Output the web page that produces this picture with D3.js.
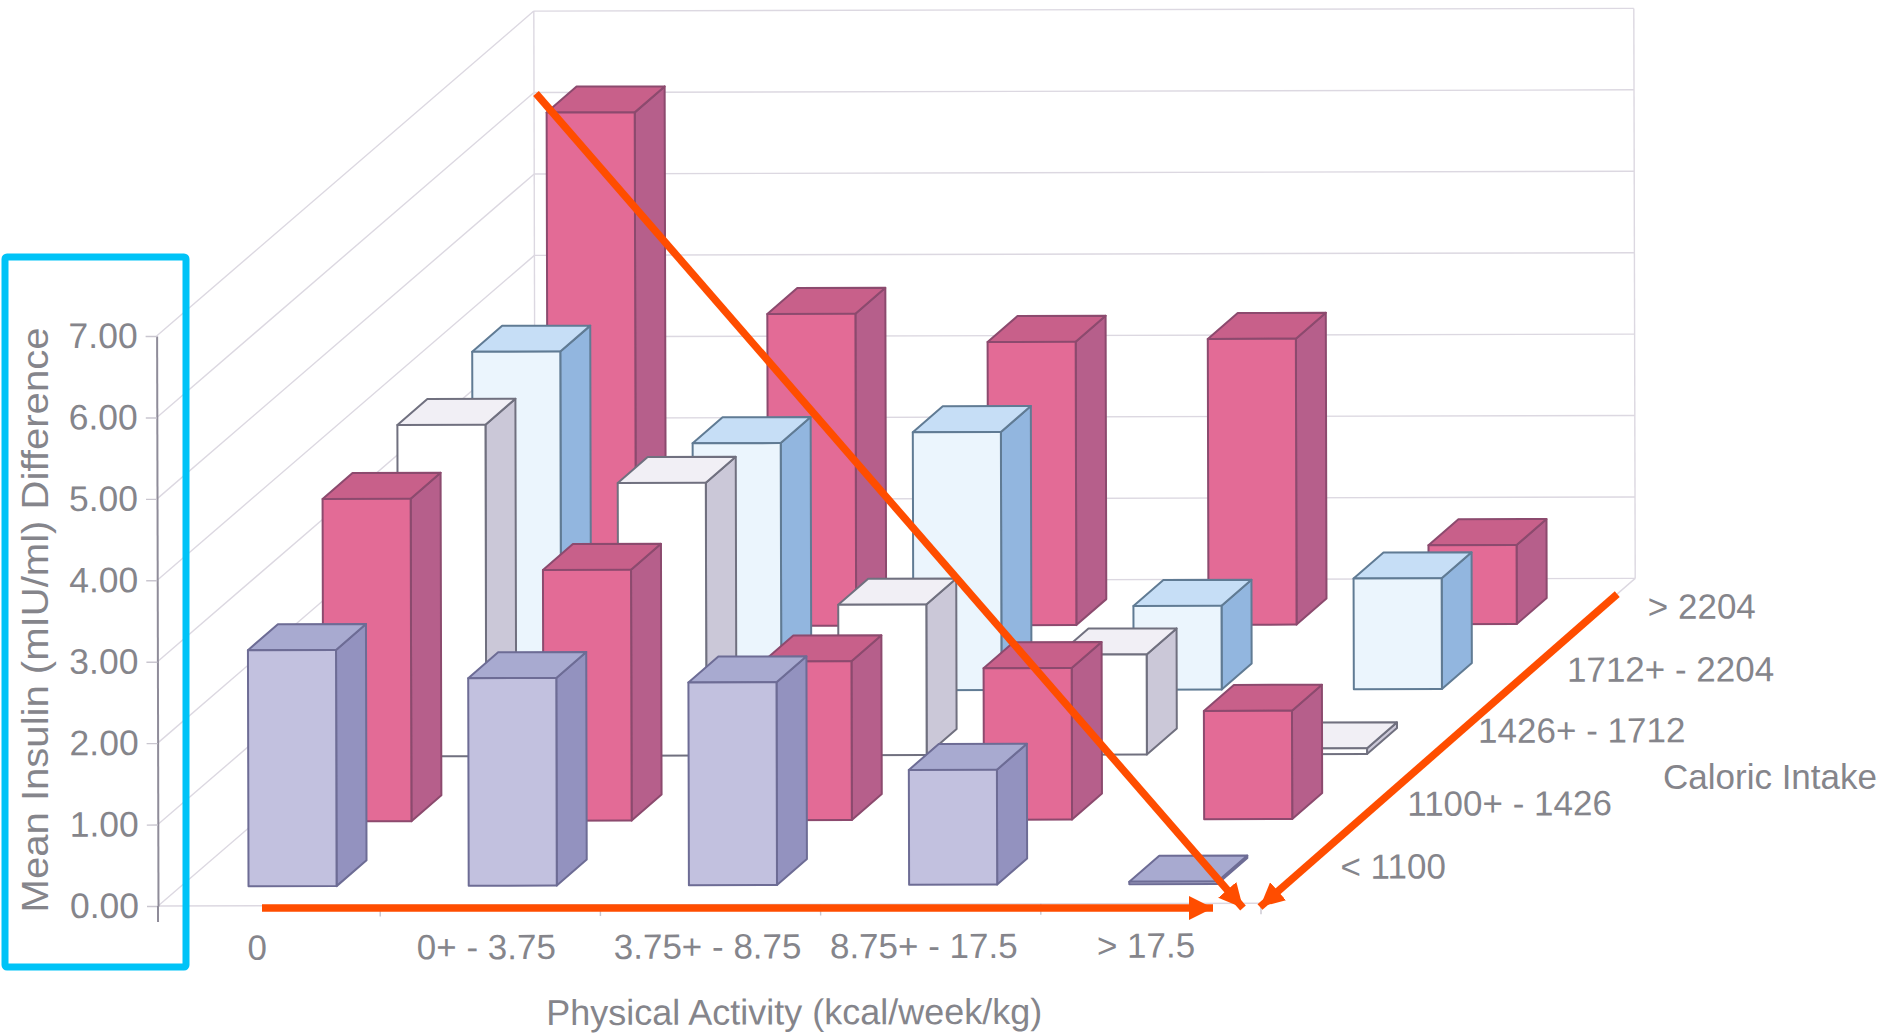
<!DOCTYPE html>
<html>
<head>
<meta charset="utf-8">
<title>Mean insulin difference</title>
<script src="https://cdn.jsdelivr.net/npm/d3@7"></script>
<style>
  html, body { margin: 0; padding: 0; background: #fff; }
  text { font-family: "Liberation Sans", Arial, sans-serif; fill: #85858b; }
</style>
</head>
<body>
<div id="chart"></div>
<script>
var activity = ["0", "0+ - 3.75", "3.75+ - 8.75", "8.75+ - 17.5", "> 17.5"];
var intake = ["< 1100", "1100+ - 1426", "1426+ - 1712", "1712+ - 2204", "> 2204"];
var yTicks = [0, 1, 2, 3, 4, 5, 6, 7];

// one list per intake row, in activity order
var under1100 = [2.90, 2.55, 2.49, 1.41, 0.03];
var from1100 = [3.96, 3.08, 1.95, 1.86, 1.33];
var from1426 = [4.07, 3.35, 1.85, 1.23, 0.07];
var from1712 = [4.17, 3.04, 3.17, 1.03, 1.36];
var over2204 = [6.31, 3.83, 3.48, 3.51, 0.97];
var rows = [under1100, from1100, from1426, from1712, over2204];

var palette = [
    {front: "#c2c1df", side: "#9392bf", top: "#a8aad0", edge: "#6d6c95"},
    {front: "#e36b96", side: "#b65f8b", top: "#c8608a", edge: "#8c4a6e"},
    {front: "#ffffff", side: "#cbc8d8", top: "#f1eff5", edge: "#70707f"},
    {front: "#ebf5fd", side: "#92b6df", top: "#c6def6", edge: "#607b94"},
    {front: "#e36b96", side: "#b65f8b", top: "#c8608a", edge: "#8c4a6e"}
];

var w = 1883, h = 1034;
var floorLeft = 160, floorRight = 1261;
var wallLeft = 161;

var svg = d3.select("#chart").append("svg")
    .attr("width", w)
    .attr("height", h)
    .style("display", "block");

// the plot leans very slightly, pivoting on the origin
var plot = svg.append("g").attr("transform", "rotate(-0.14 158 906)");

var x = d3.scaleBand().domain(activity).range([floorLeft, floorRight])
    .paddingInner(0.6).paddingOuter(0.3);
var z = d3.scaleBand().domain(intake).range([0, 1])
    .paddingInner(0.6).paddingOuter(0.3);
var y = d3.scaleLinear().domain([0, 7]).range([906, 336]);
var xEdge = d3.scaleLinear().domain([0, activity.length]).range([floorLeft, floorRight]);

// oblique depth: depth 0 is the front of the floor, depth 1 the back wall
var depthX = d3.scaleLinear().domain([0, 1]).range([0, 375]);
var depthY = d3.scaleLinear().domain([0, 1]).range([0, -324]);

function project(px, value, depth) {
    return [px + depthX(depth), y(value) + depthY(depth)];
}

function poly(points) {
    return d3.line()(points) + "Z";
}

// walls and floor
var wallColor = "#dcd8e1";
var walls = plot.append("g").attr("fill", "none").attr("stroke", wallColor).attr("stroke-width", 1.4);

yTicks.forEach(function(t) {
    walls.append("path").attr("d", d3.line()([project(floorLeft - 2, t, 0), project(wallLeft, t, 1)]));
    walls.append("path").attr("d", d3.line()([project(wallLeft, t, 1), project(floorRight, t, 1)]));
});
walls.append("path").attr("d", d3.line()([project(wallLeft, 0, 1), project(wallLeft, 7, 1)]));
walls.append("path").attr("d", d3.line()([project(floorRight, 0, 1), project(floorRight, 7, 1)]));
walls.append("path").attr("d", d3.line()([project(floorLeft - 2, 0, 0), project(floorRight, 0, 0)]));
walls.append("path").attr("d", d3.line()([project(floorRight, 0, 0), project(floorRight, 0, 1)]));

// bars, back row first so nearer ones cover them
var bw = x.bandwidth(), bd = z.bandwidth();
d3.range(rows.length - 1, -1, -1).forEach(function(r) {
    var colors = palette[r];
    var d0 = z(intake[r]), d1 = d0 + bd;
    var row = plot.append("g")
        .attr("class", "row")
        .attr("stroke", colors.edge)
        .attr("stroke-width", 2)
        .attr("stroke-linejoin", "round");

    var bars = row.selectAll("g")
        .data(rows[r])
        .enter()
        .append("g");

    bars.append("path")
        .attr("fill", colors.side)
        .attr("d", function(d, i) {
            var x1 = x(activity[i]) + bw;
            return poly([project(x1, 0, d0), project(x1, d, d0), project(x1, d, d1), project(x1, 0, d1)]);
        });
    bars.append("path")
        .attr("fill", colors.top)
        .attr("d", function(d, i) {
            var x0 = x(activity[i]), x1 = x0 + bw;
            return poly([project(x0, d, d0), project(x1, d, d0), project(x1, d, d1), project(x0, d, d1)]);
        });
    bars.append("path")
        .attr("fill", colors.front)
        .attr("d", function(d, i) {
            var x0 = x(activity[i]), x1 = x0 + bw;
            return poly([project(x0, 0, d0), project(x1, 0, d0), project(x1, d, d0), project(x0, d, d0)]);
        });
});

// value axis
var yAxis = d3.axisLeft(y)
    .tickValues(yTicks)
    .tickFormat(d3.format(".2f"))
    .tickSize(11)
    .tickSizeOuter(0)
    .tickPadding(8);

var yG = plot.append("g").attr("transform", "translate(158,0)").call(yAxis);
yG.selectAll("text").attr("font-size", 35.5).style("fill", "#85858b");
yG.selectAll("line").attr("stroke", "#c9c6cf").attr("stroke-width", 1.4);
yG.select(".domain").attr("stroke", "#8f8c99").attr("stroke-width", 2);
yG.append("line").attr("y1", y(0)).attr("y2", y(0) + 16).attr("stroke", "#8f8c99").attr("stroke-width", 2);

// activity ticks sit between the bands, their labels under the bars
var xTicks = plot.append("g").attr("stroke", "#c9c6cf").attr("stroke-width", 1.4);
d3.range(1, activity.length + 1).forEach(function(i) {
    xTicks.append("line")
        .attr("x1", xEdge(i)).attr("x2", xEdge(i))
        .attr("y1", y(0)).attr("y2", y(0) + 11);
});

var activityNudge = [-13, -4, -3, -7, -5];
plot.selectAll(".activity")
    .data(activity)
    .enter()
    .append("text")
    .attr("class", "activity")
    .attr("text-anchor", "middle")
    .attr("font-size", 35)
    .attr("x", function(d, i) { return x(d) + bw / 2 + activityNudge[i]; })
    .attr("y", y(0) + 54)
    .text(function(d) { return d; });

// intake labels step back along the right edge of the floor
var intakeNudgeX = [42, 34, 30, 44, 50];
var intakeNudgeY = [8, 10, 2, 6, 8];
plot.selectAll(".intake")
    .data(intake)
    .enter()
    .append("text")
    .attr("class", "intake")
    .attr("font-size", 35)
    .attr("x", function(d, i) { return project(floorRight, 0, z(d) + bd / 2)[0] + intakeNudgeX[i]; })
    .attr("y", function(d, i) { return project(floorRight, 0, z(d) + bd / 2)[1] + intakeNudgeY[i]; })
    .text(function(d) { return d; });

plot.append("text")
    .attr("text-anchor", "middle")
    .attr("font-size", 36)
    .attr("x", 794)
    .attr("y", 1026)
    .text("Physical Activity (kcal/week/kg)");

svg.append("text")
    .attr("text-anchor", "middle")
    .attr("font-size", 35)
    .attr("x", 1770)
    .attr("y", 789)
    .text("Caloric Intake");

svg.append("text")
    .attr("text-anchor", "middle")
    .attr("font-size", 36)
    .attr("textLength", 585)
    .attr("lengthAdjust", "spacingAndGlyphs")
    .attr("transform", "translate(48,620) rotate(-90)")
    .text("Mean Insulin (mIU/ml) Difference");

// highlight frame round the value axis
svg.append("rect")
    .attr("x", 5)
    .attr("y", 257)
    .attr("width", 181)
    .attr("height", 710)
    .attr("rx", 2)
    .attr("fill", "none")
    .attr("stroke", "#00c3f7")
    .attr("stroke-width", 7);

// arrows converging on the front right corner of the floor
var orange = "#ff4d00";
svg.append("defs").append("marker")
    .attr("id", "head")
    .attr("markerUnits", "userSpaceOnUse")
    .attr("markerWidth", 24)
    .attr("markerHeight", 24)
    .attr("refX", 24)
    .attr("refY", 12)
    .attr("orient", "auto")
    .append("path")
    .attr("d", "M0,0L24,12L0,24Z")
    .attr("fill", orange);

var corner = project(floorRight, 0, 0);
var arrows = [
    [[262, corner[1] + 2], [corner[0] - 48, corner[1] + 2]],
    [project(wallLeft, 6, 1), [corner[0] - 18, corner[1] + 2]],
    [project(floorRight, 0.05, 0.95), [corner[0] - 1, corner[1] + 1]]
];
svg.selectAll(".arrow")
    .data(arrows)
    .enter()
    .append("line")
    .attr("class", "arrow")
    .attr("x1", function(d) { return d[0][0]; })
    .attr("y1", function(d) { return d[0][1]; })
    .attr("x2", function(d) { return d[1][0]; })
    .attr("y2", function(d) { return d[1][1]; })
    .attr("stroke", orange)
    .attr("stroke-width", 7.5)
    .attr("marker-end", "url(#head)");
</script>
</body>
</html>
